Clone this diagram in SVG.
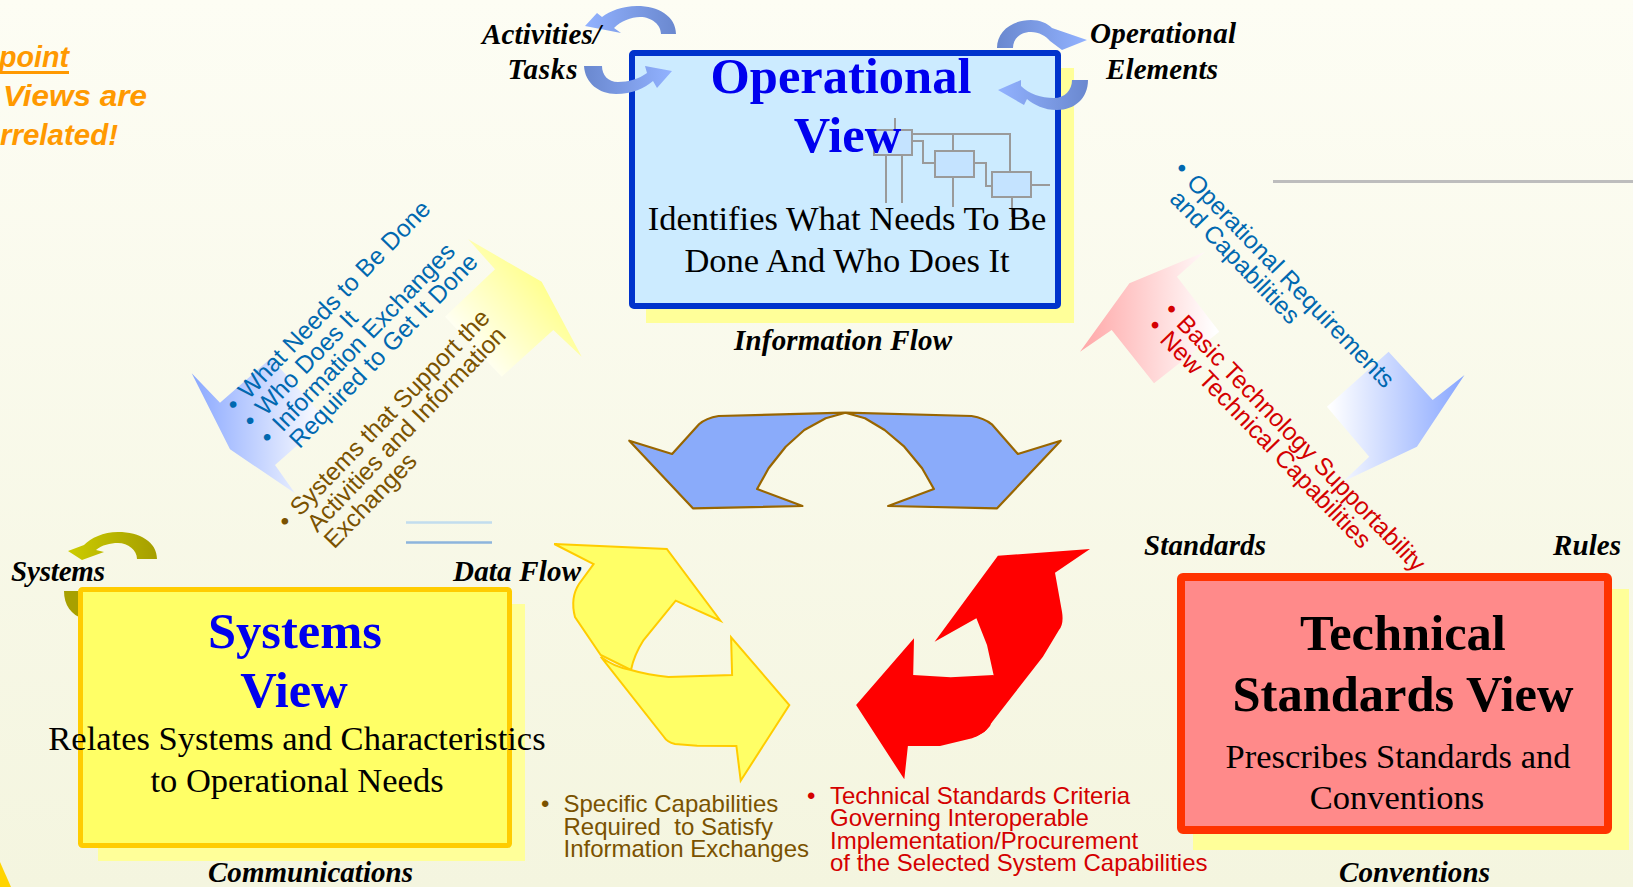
<svg xmlns="http://www.w3.org/2000/svg" width="1633" height="887" viewBox="0 0 1633 887">
<defs>
<style>
.lab{font-family:"Liberation Serif","Times New Roman",serif;font-weight:bold;font-style:italic;font-size:29px;fill:#000}
.title{font-family:"Liberation Serif","Times New Roman",serif;font-weight:bold;font-size:50.5px;text-anchor:middle}
.desc{font-family:"Liberation Serif","Times New Roman",serif;font-size:34.5px;fill:#000;text-anchor:middle}
.sans{font-family:"Liberation Sans",Arial,sans-serif}
.rot{font-size:24.5px}
.bot{font-size:24px}
.org{font-family:"Liberation Sans",Arial,sans-serif;font-weight:bold;font-style:italic;font-size:29px;fill:#FF9900}
.mini{fill:none;stroke:#9A9A9A;stroke-width:2}
.minibox{fill:#C4E3FF;stroke:#9A9A9A;stroke-width:2}
.shadow{fill:#FFFF99}
</style>
<linearGradient id="bg" x1="0" y1="0" x2="0" y2="1"><stop offset="0" stop-color="#FDFDF4"/><stop offset="1" stop-color="#F4F5DF"/></linearGradient>
<linearGradient id="gBlueL" gradientUnits="userSpaceOnUse" x1="192" y1="0" x2="325" y2="0"><stop offset="0" stop-color="#8AA8FF"/><stop offset="1" stop-color="#FFFFFF"/></linearGradient>
<linearGradient id="gYel" gradientUnits="userSpaceOnUse" x1="565" y1="285" x2="470" y2="365"><stop offset="0" stop-color="#FFFF80"/><stop offset="1" stop-color="#FFFFFF"/></linearGradient>
<linearGradient id="gPink" gradientUnits="userSpaceOnUse" x1="1082" y1="0" x2="1215" y2="0"><stop offset="0" stop-color="#FFA8A8"/><stop offset="1" stop-color="#FFFFFF"/></linearGradient>
<linearGradient id="gBlueR" gradientUnits="userSpaceOnUse" x1="1330" y1="0" x2="1462" y2="0"><stop offset="0" stop-color="#FFFFFF"/><stop offset="1" stop-color="#8AA8FF"/></linearGradient>
<linearGradient id="gLoopLD" x1="0" y1="0" x2="1" y2="0"><stop offset="0" stop-color="#92B2FF"/><stop offset="1" stop-color="#6A88CF"/></linearGradient>
<linearGradient id="gLoopDL" x1="0" y1="0" x2="1" y2="0"><stop offset="0" stop-color="#6A88CF"/><stop offset="1" stop-color="#92B2FF"/></linearGradient>
<linearGradient id="gOlive" x1="0" y1="0" x2="1" y2="0"><stop offset="0" stop-color="#CCCC00"/><stop offset="1" stop-color="#A59E00"/></linearGradient>
</defs>

<rect x="0" y="0" width="1633" height="887" fill="url(#bg)"/>

<!-- decorations -->
<line x1="1273" y1="181.5" x2="1633" y2="181.5" stroke="#BDBDBD" stroke-width="3"/>
<line x1="406" y1="522.5" x2="492" y2="522.5" stroke="#C2DDEE" stroke-width="2.5"/>
<line x1="406" y1="542.5" x2="492" y2="542.5" stroke="#8DB5DD" stroke-width="2.5"/>
<path d="M 0,862 L 11,887 L 0,887 Z" fill="#FFD400"/>

<!-- orange header text -->
<g id="header-text">
<text class="org" x="-1" y="67" textLength="70" lengthAdjust="spacingAndGlyphs">point</text>
<rect x="0" y="71" width="69" height="3" fill="#FF9900"/>
<text class="org" x="3" y="106" textLength="144" lengthAdjust="spacingAndGlyphs">Views are</text>
<text class="org" x="0" y="145" textLength="118" lengthAdjust="spacingAndGlyphs">rrelated!</text>
</g>

<!-- diagonal gradient arrows -->
<g id="connectors">
<polygon points="191.7,373.3 220,402.7 271,358 326,420 275,465 295,493.3 230,449.3" fill="url(#gBlueL)"/>
<polygon points="468.3,239.3 541.7,281.7 581.7,356.7 553.3,330 501.7,376.7 445,316.7 495,269.3" fill="url(#gYel)"/>
<polygon points="1080,351.7 1129.4,283.3 1205.2,251.7 1177,276.7 1219.3,331.7 1154,383.3 1111.7,330" fill="url(#gPink)"/>
<polygon points="1326.9,406.7 1388.6,351.7 1432.7,400 1464.5,375 1416.9,446.7 1342.8,481.7 1369.2,456.7" fill="url(#gBlueR)"/>

<!-- recycle arrows -->
<path d="M 845.4,412.7 L 718.6,416 Q 706,418 699,424.3 L 672.1,454 L 629.3,440.7 L 692.9,508.3 L 802.5,506 L 757.1,489 L 768.6,468.3 L 785.7,446.7 L 804.3,430 L 825.7,418.3 L 845.4,412.7 L 865,418.3 L 884.6,430 L 904.3,446.7 L 922.1,468.3 L 933.9,489 L 888.2,506 L 997.1,508.3 L 1060.7,440.7 L 1017.9,454 L 991.8,424.3 Q 984,418 971.6,416 Z" fill="#8AABFA" stroke="#996600" stroke-width="2.2" stroke-linejoin="round"/>
<path d="M 554.3,544 L 666.8,549 L 720.4,620.7 L 675.7,600.7 L 643.6,640 Q 634,655 631,670 L 600.7,655 L 575,617 Q 570,598 579,584 L 593.6,564 Z" fill="#FFFF66" stroke="#FFCC00" stroke-width="2"/>
<path d="M 600.7,656.7 Q 614,667 631,670 Q 648,675 668.6,677 L 732.1,675 L 731.1,637.3 L 789.3,705 L 740.7,780.7 L 736.4,746 L 697.1,745.7 L 675,744 Q 667,742 664,737 Z" fill="#FFFF66" stroke="#FFCC00" stroke-width="2"/>
<path d="M 934.6,641.7 L 997.9,555.7 L 1090,549 L 1055,572.7 L 1062,611.7 Q 1064,624 1059,630 L 1042.9,656.7 L 984.6,731.7 L 975,737 L 993.6,675 L 987,645 L 976.4,618.3 Z" fill="#FF0000"/>
<path d="M 914,638.3 L 856.1,705 L 904.3,779.3 L 907.9,746 L 940,746 L 972.1,738.3 Q 984,734 990,726 L 1000,700 L 993.6,675 L 950.7,677.3 L 913.2,675 Z" fill="#FF0000"/>
</g>

<!-- rotated arrow texts -->
<g id="text-ops-to-sys" class="sans rot" fill="#0068B0" transform="translate(236,413.2) rotate(-46)">
<text x="0" y="0">•</text><text x="18" y="0">What Needs to Be Done</text>
<text x="0" y="23.6">•</text><text x="18" y="23.6">Who Does It</text>
<text x="0" y="47.2">•</text><text x="18" y="47.2">Information Exchanges</text>
<text x="18" y="70.8">Required to Get It Done</text>
</g>
<g id="text-sys-to-ops" class="sans rot" fill="#7A5200" transform="translate(287.7,529.9) rotate(-46)">
<text x="0" y="0">•</text><text x="18" y="0">Systems that Support the</text>
<text x="18" y="23.6">Activities and Information</text>
<text x="18" y="47.2">Exchanges</text>
</g>
<g id="text-ops-to-tech" class="sans rot" fill="#0068B0" transform="translate(1173,170.7) rotate(46)">
<text x="0" y="0">•</text><text x="18" y="0">Operational Requirements</text>
<text x="18" y="23.6">and Capabilities</text>
</g>
<g id="text-tech-to-ops" class="sans rot" fill="#D40000" transform="translate(1162.8,311.7) rotate(46)">
<text x="0" y="0">•</text><text x="18" y="0">Basic Technology Supportability</text>
<text x="0" y="23">•</text><text x="18" y="23">New Technical Capabilities</text>
</g>

<!-- Operational View node -->
<g id="operational-view">
<rect class="shadow" x="646" y="68" width="428" height="255"/>
<rect x="632" y="53" width="426" height="253" rx="2" fill="#CCEBFF" stroke="#0033CC" stroke-width="6"/>
<line class="mini" x1="895" y1="118" x2="895" y2="130"/>
<rect class="minibox" x="874" y="130" width="38" height="25"/>
<line class="mini" x1="886" y1="155" x2="886" y2="203"/>
<line class="mini" x1="902" y1="155" x2="902" y2="203"/>
<polyline class="mini" points="912,134 1010,134 1010,172"/>
<line class="mini" x1="953" y1="134" x2="953" y2="151"/>
<polyline class="mini" points="912,141 923,141 923,163 935,163"/>
<rect class="minibox" x="935" y="151" width="39" height="26"/>
<line class="mini" x1="953" y1="177" x2="953" y2="207"/>
<polyline class="mini" points="974,163 986,163 986,186 992,186"/>
<rect class="minibox" x="992" y="172" width="39" height="25"/>
<line class="mini" x1="1031" y1="185" x2="1050" y2="185"/>
<line class="mini" x1="1012" y1="197" x2="1012" y2="217"/>
<text class="title" x="841" y="93" fill="#0000EE">Operational</text>
<text class="title" x="847.5" y="152" fill="#0000EE">View</text>
<text class="desc" x="847" y="230">Identifies What Needs To Be</text>
<text class="desc" x="847" y="272">Done And Who Does It</text>
</g>

<!-- Systems View node -->
<g id="systems-view">
<path d="M 64,591 C 64,605 71,615 84,619 L 84,604 C 80,601 79,596 79,591 Z" fill="#A8A000"/>
<rect class="shadow" x="98" y="604" width="427" height="257"/>
<rect x="80.5" y="589.5" width="429" height="256" rx="2" fill="#FFFF66" stroke="#FFCC00" stroke-width="5"/>
<text class="title" x="295" y="648" fill="#0000EE">Systems</text>
<text class="title" x="294" y="707" fill="#0000EE">View</text>
<text class="desc" x="297" y="750">Relates Systems and Characteristics</text>
<text class="desc" x="297" y="792">to Operational Needs</text>
</g>

<!-- Technical Standards View node -->
<g id="technical-view">
<rect class="shadow" x="1193" y="589" width="436" height="261"/>
<rect x="1181" y="577" width="427" height="253" rx="2" fill="#FF8A8A" stroke="#FF3300" stroke-width="8"/>
<text class="title" x="1403" y="650" fill="#000">Technical</text>
<text class="title" x="1403" y="711" fill="#000">Standards View</text>
<text class="desc" x="1398" y="768">Prescribes Standards and</text>
<text class="desc" x="1397" y="809">Conventions</text>
</g>

<!-- loop arrows -->
<g id="loops">
<path d="M 676,34 C 676,16 658,6 637,6 C 622,6 610,11 602,17 L 597,13 L 585,26 L 621,33 L 614,28 C 621,21 631,17 640,17 C 652,17 661,25 661,34 Z" fill="url(#gLoopLD)"/>
<path d="M 584,66 C 585,83 599,94 616,94 C 632,94 645,88 653,81 L 657,88 L 672,71 L 645,66 L 647,73 C 639,79 628,82 618,82 C 608,82 602,75 602,66 Z" fill="url(#gLoopDL)"/>
<path d="M 997,48 C 997,31 1012,20 1031,20 C 1040,20 1047,23 1052,28 L 1087,40 L 1062,50 L 1050,41 C 1046,36 1039,32 1031,32 C 1020,32 1013,39 1013,48 Z" fill="url(#gLoopDL)"/>
<path d="M 1088,80 C 1088,98 1075,110 1057,110 C 1044,110 1034,105 1027,99 L 1024,105 L 998,90 L 1021,80 L 1021,86 C 1029,94 1041,98 1054,98 C 1065,98 1072,90 1072,80 Z" fill="url(#gLoopLD)"/>
<path d="M 157,559 C 157,542 140,532 118,532 C 103,532 91,538 84,545 L 68,551 L 82,560 L 104,552 L 96,550 C 102,545 110,543 118,543 C 128,543 137,550 137,559 Z" fill="url(#gOlive)"/>
</g>

<!-- labels -->
<g id="labels">
<text class="lab" x="541.5" y="44" text-anchor="middle" textLength="119">Activities/</text>
<text class="lab" x="542.5" y="79" text-anchor="middle" textLength="70">Tasks</text>
<text class="lab" x="1163" y="43" text-anchor="middle" textLength="146">Operational</text>
<text class="lab" x="1162" y="79" text-anchor="middle" textLength="112">Elements</text>
<text class="lab" x="734" y="350" textLength="218">Information Flow</text>
<text class="lab" x="11" y="581" textLength="94">Systems</text>
<text class="lab" x="453" y="581" textLength="128">Data Flow</text>
<text class="lab" x="1144" y="555" textLength="122">Standards</text>
<text class="lab" x="1553" y="555" textLength="68">Rules</text>
<text class="lab" x="208" y="882" textLength="205">Communications</text>
<text class="lab" x="1339" y="882" textLength="151">Conventions</text>
</g>

<!-- bottom bullet texts -->
<g id="text-sys-bottom" class="sans bot" fill="#7A5200">
<text x="541" y="811.7">•</text>
<text x="563.5" y="811.7">Specific Capabilities</text>
<text x="563.5" y="834.5" style="white-space:pre">Required  to Satisfy</text>
<text x="563.5" y="857.3">Information Exchanges</text>
</g>
<g id="text-tech-bottom" class="sans bot" fill="#D40000">
<text x="807" y="803.5">•</text>
<text x="830" y="803.5">Technical Standards Criteria</text>
<text x="830" y="826">Governing Interoperable</text>
<text x="830" y="848.5">Implementation/Procurement</text>
<text x="830" y="871">of the Selected System Capabilities</text>
</g>
</svg>
